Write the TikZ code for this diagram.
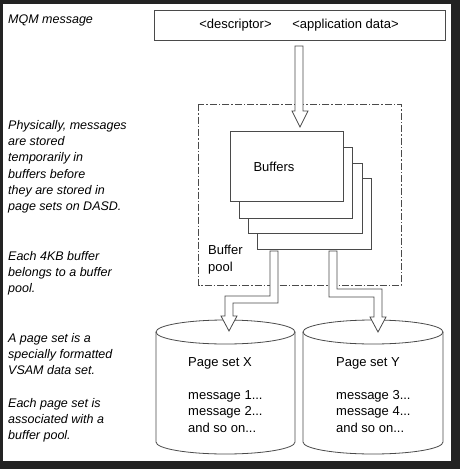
\documentclass[tikz,border=0pt]{standalone}
\usepackage{fontspec}
\setmainfont{Liberation Sans}
\definecolor{bgdark}{HTML}{232323}
\definecolor{linec}{HTML}{4A4A4A}
\begin{document}
\begin{tikzpicture}[x=1pt,y=-1pt,
  ln/.style={draw=linec,line width=0.8pt},
  box/.style={ln,fill=white},
  note/.style={anchor=north west,inner sep=0pt,align=left,font=\fontsize{12.5}{16.3}\selectfont\itshape},
  lbl/.style={inner sep=0pt,font=\fontsize{13}{16.5}\selectfont},
  cyltext/.style={anchor=north west,inner sep=0pt,align=left,font=\fontsize{13}{16.5}\selectfont},
  pooldash/.style={draw=linec,line width=0.8pt,dash pattern=on 7pt off 2pt on 1.5pt off 2pt},
  hollow/.style={ln,fill=white,line join=miter}]
\useasboundingbox (0,0) rectangle (460,469);
\fill[bgdark] (0,0) rectangle (460,469);
\fill[white] (3,4) rectangle (451,461);

% left notes
\node[note] (n0) at (8,14.4) {MQM message};
\node[note] (n1) at (8,120) {Physically, messages\\are stored\\temporarily in\\buffers before\\they are stored in\\page sets on DASD.};
\node[note] (n2) at (8,251) {Each 4KB buffer\\belongs to a buffer\\pool.};
\node[note] (n3) at (8,333) {A page set is a\\specially formatted\\VSAM data set.};
\node[note] (n4) at (8,398) {Each page set is\\associated with a\\buffer pool.};

% message box
\draw[ln] (154,10) rectangle (445,40);
\node[lbl] (msg) at (299,25.5) {<descriptor>\hspace{1.6em}<application data>};

% buffer pool
\draw[pooldash] (198.5,104) rectangle (401,285.5);
\node[cyltext,font=\fontsize{13}{17}\selectfont] (pool) at (208,245) {Buffer\\pool};

% buffers stack
\draw[box] (257,178) rectangle (371,249);
\draw[box] (248,163) rectangle (362,233);
\draw[box] (239,147) rectangle (352,218);
\draw[box] (230,131) rectangle (343,201);
\node[lbl] (buf) at (274,167) {Buffers};

% arrow into buffers
\draw[hollow] (295,46) -- (303,46) -- (303,111) -- (308,111) -- (300,127) -- (292,111) -- (295,111) -- cycle;

% cylinders
\draw[box] (156,332) -- (156,442) arc[start angle=180,end angle=360,x radius=69.5pt,y radius=12pt] -- (295,332);
\draw[ln] (225.5,332) ellipse [x radius=69.5pt,y radius=12pt];
\draw[box] (303,332) -- (303,442) arc[start angle=180,end angle=360,x radius=70pt,y radius=12pt] -- (443,332);
\draw[ln] (373,332) ellipse [x radius=70pt,y radius=12pt];

% arrows to cylinders
\draw[hollow] (270,251) -- (270,296) -- (225,296) -- (225,316) -- (221,316) -- (229,331) -- (237,316) -- (233,316) -- (233,303) -- (278,303) -- (278,251) -- cycle;
\draw[hollow] (329,251) -- (329,297) -- (374,297) -- (374,317) -- (370,317) -- (378,332) -- (386,317) -- (382,317) -- (382,289) -- (337,289) -- (337,251) -- cycle;

% cylinder texts
\node[cyltext] (px) at (188,357) {Page set X\\[16.5pt]message 1...\\message 2...\\and so on...};
\node[cyltext] (py) at (336,357) {Page set Y\\[16.5pt]message 3...\\message 4...\\and so on...};
\end{tikzpicture}
\end{document}
